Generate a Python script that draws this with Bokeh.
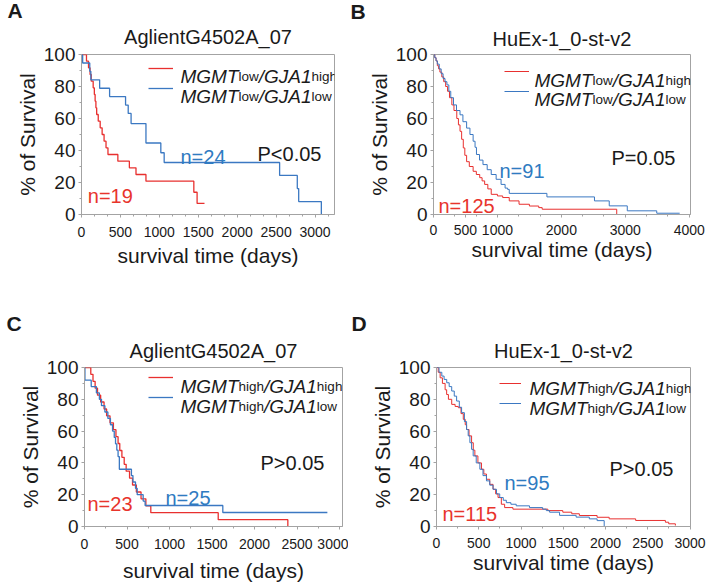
import math
from bokeh.plotting import figure
from bokeh.models import Range1d, Label, Legend, LegendItem, FixedTicker, Title
from bokeh.layouts import column, row
from bokeh.embed import file_html
from bokeh.resources import INLINE

# ---------------- data ----------------
# Panel A  AglientG4502A_07, MGMTlow
a_red_t = [0, 64, 90, 110, 125, 150, 165, 175, 185, 195, 215, 240, 265, 290, 315, 340, 467, 615, 700, 828, 1443, 1485, 1580]
a_red_s = [100, 95.8, 91.7, 87.5, 83.3, 79.2, 75, 70.8, 66.7, 62.5, 58.3, 54.2, 50, 45.8, 41.7, 37.5, 33.3, 29.2, 25, 20.8, 13.9, 6.9, 6.9]
a_blue_t = [0, 15, 106, 120, 233, 361, 566, 600, 637, 828, 1019, 1062, 2545, 2772, 2790, 3081]
a_blue_s = [100, 94.7, 89.5, 84.2, 78.9, 73.7, 68.4, 63.2, 56.8, 44.7, 38.6, 32.5, 24.4, 16.2, 8.1, 0]

# Panel B  HuEx-1_0-st-v2, MGMTlow
b_red_t = [0, 20, 40, 60, 80, 100, 130, 160, 190, 220, 250, 287, 320, 364, 390, 415, 440, 466, 490, 518, 560, 620, 670, 723, 760, 800, 850, 903, 1000, 1082, 1185, 1338, 1500, 1646, 1700, 2866]
b_red_s = [100, 98, 96, 93, 91, 89, 86, 83, 80, 77, 73, 68.5, 65, 60, 56, 52, 47, 41.6, 37, 33, 30, 27, 25, 23, 21, 18.8, 16, 12.6, 11.6, 10.6, 8.5, 6.4, 5.3, 4.3, 3.3, 0]
b_blue_t = [0, 20, 40, 60, 90, 120, 150, 180, 210, 240, 270, 313, 360, 415, 460, 518, 570, 620, 650, 672, 720, 774, 840, 903, 980, 1057, 1120, 1159, 1185, 1774, 2518, 2749, 3031, 3492, 3851]
b_blue_s = [100, 98, 96, 94, 91, 88, 85, 83, 81, 77, 73, 68.5, 65, 62.3, 58, 54, 50, 45.8, 42, 37.5, 34, 31.2, 28, 25, 22, 18.8, 16.5, 15.7, 13.2, 11, 8.5, 5.4, 2.3, 0.8, 0.8]

# Panel C  AglientG4502A_07, MGMThigh
c_red_t = [0, 74, 100, 125, 153, 190, 230, 260, 300, 340, 370, 395, 415, 440, 467, 490, 530, 565, 610, 665, 722, 780, 1573, 2392]
c_red_s = [100, 95.7, 91.3, 87, 82.6, 78.3, 73.9, 69.6, 65.2, 60.9, 56.5, 52.2, 47.8, 43.5, 39.1, 34.8, 30.4, 26.1, 21.7, 17.4, 13, 8.7, 4.3, 0]
c_blue_t = [0, 5, 79, 140, 175, 200, 240, 275, 305, 330, 350, 365, 380, 395, 410, 552, 570, 600, 620, 690, 713, 1627, 2857]
c_blue_s = [100, 92, 88, 84, 80, 76, 72, 68, 64, 60, 56, 52, 48, 44, 36, 32, 28, 24, 20, 16, 13.2, 8.8, 8.8]

# Panel D  HuEx-1_0-st-v2, MGMThigh
d_red_t = [0, 20, 43, 70, 102, 120, 141, 180, 220, 258, 290, 317, 340, 356, 385, 415, 435, 454, 490, 532, 560, 591, 630, 669, 700, 728, 767, 806, 904, 1318, 1494, 1600, 1690, 1900, 2043, 2356, 2708, 2747, 2826]
d_red_s = [100, 97, 93.5, 90, 86, 83, 80, 76.8, 75.5, 74.7, 71, 67.4, 64, 61, 57, 52.7, 48, 44.4, 40, 36, 33, 29.7, 26.5, 23.4, 20.5, 18.2, 14, 11.9, 10.9, 10, 9, 8, 6.9, 5.8, 4.8, 3.8, 2.7, 1.7, 0.6]
d_blue_t = [0, 30, 63, 90, 121, 150, 180, 210, 238, 270, 297, 330, 356, 375, 395, 415, 434, 470, 513, 550, 591, 630, 669, 710, 748, 790, 826, 880, 943, 1100, 1256, 1299, 1338, 1456, 1652, 1808, 1900, 1984]
d_blue_s = [100, 97, 94.6, 92.5, 90.4, 88, 85.2, 82, 78.9, 75, 71.6, 66, 61, 57, 52.7, 48.5, 44.4, 40, 36, 32, 28.7, 26, 23.4, 20.5, 18.2, 16.5, 15, 14, 13, 11.9, 10.9, 10, 9, 7, 5.9, 4.8, 3.7, 0]

y_ticks = [0, 20, 40, 60, 80, 100]
a_xticks = [0, 500, 1000, 1500, 2000, 2500, 3000]
b_xticks = [0, 500, 1000, 2000, 3000, 4000]
c_xticks = [0, 500, 1000, 1500, 2000, 2500, 3000]
d_xticks = [0, 500, 1000, 1500, 2000, 2500, 3000]

# ---------------- styling ----------------
FONT = "Liberation Sans"
RED = "#e8302f"
BLUE = "#3b78c2"
RED_T = "#e8342c"
BLUE_T = "#2f7bc1"
GREY = "#a3a3a3"
INK = "#1a1a1a"

ARIAL = {'M': 833, 'G': 778, 'T': 611, 'l': 222, 'o': 556, 'w': 722, '/': 278,
         'J': 500, 'A': 667, '1': 556, 'h': 556, 'i': 222, 'g': 556}


def tw(s, size):
    return sum(ARIAL.get(c, 556) for c in s) / 1000.0 * size


def make_panel(g, red_t, red_s, blue_t, blue_s, xticks, xminor_step, lw, txt):
    FL, FT, FW, FH, X1, ox, oy, W, H = (g[k] for k in ("FL", "FT", "FW", "FH", "X1", "ox", "oy", "W", "H"))
    p = figure(width=W, height=H, x_range=Range1d(0, X1), y_range=Range1d(0, 100),
               output_backend="svg", toolbar_location=None, title=None,
               min_border_left=FL - ox, min_border_top=FT - oy,
               min_border_right=W - (FL - ox) - FW, min_border_bottom=H - (FT - oy) - FH)
    p.grid.visible = False
    p.outline_line_color = GREY
    p.background_fill_color = "white"
    p.border_fill_color = "white"

    nmin = int(X1 // xminor_step) + 1
    p.xaxis.ticker = FixedTicker(ticks=xticks, minor_ticks=[i * xminor_step for i in range(nmin)])
    p.yaxis.ticker = FixedTicker(ticks=y_ticks, minor_ticks=[10, 30, 50, 70, 90])
    for ax in (p.xaxis, p.yaxis):
        ax.axis_line_color = GREY
        ax.major_tick_line_color = GREY
        ax.minor_tick_line_color = GREY
        ax.major_tick_out = 3
        ax.major_tick_in = 0
        ax.minor_tick_out = 2
        ax.minor_tick_in = 0
        ax.major_label_text_font = FONT
        ax.major_label_text_color = INK
        ax.axis_label_text_font = FONT
        ax.axis_label_text_font_size = "21px"
        ax.axis_label_text_font_style = "normal"
        ax.axis_label_text_color = INK
    p.xaxis.major_label_text_font_size = "14px"
    p.xaxis.major_label_standoff = txt["xtick_so"]
    p.yaxis.major_label_text_font_size = "19px"
    p.yaxis.major_label_standoff = 3
    p.xaxis.axis_label = "survival time (days)"
    p.yaxis.axis_label = "% of Survival"
    p.xaxis.axis_label_standoff = txt["xlab_so"]
    p.yaxis.axis_label_standoff = txt["ylab_so"]

    # titles: dataset name (closest to plot), then panel letter above it
    p.add_layout(Title(text=txt["title"], align="center", text_font=FONT, text_font_size="20px",
                       text_font_style="normal", text_color=INK, standoff=txt["title_so"]), "above")
    p.add_layout(Title(text=txt["letter"], align="left", offset=txt["letter_off"], text_font=FONT,
                       text_font_size="21px", text_font_style="bold", text_color=INK,
                       standoff=txt["letter_so"]), "above")

    r_red = p.step(red_t, red_s, mode="after", line_color=RED, line_width=lw)
    r_blue = p.step(blue_t, blue_s, mode="after", line_color=BLUE, line_width=lw)

    def d(px, py):
        return (px - FL) / FW * X1, (FT + FH - py) / FH * 100.0

    def lab(px, py, text, size, color=INK, style="normal", align="left"):
        x, y = d(px, py)
        p.add_layout(Label(x=x, y=y, text=text, text_font=FONT, text_font_size=f"{size}px",
                           text_color=color, text_font_style=style, text_align=align,
                           text_baseline="alphabetic"))

    # legend sample lines (library legend, labels hidden) + rich text labels
    segL, segR, row1 = txt["seg"]
    leg = Legend(items=[LegendItem(label="a", renderers=[r_red]),
                        LegendItem(label="b", renderers=[r_blue])],
                 location=(segL - FL, (FT + FH) - (row1 - 10 + 40)),
                 glyph_width=segR - segL, glyph_height=20, label_height=20, label_width=1,
                 spacing=0, padding=0, margin=0, label_standoff=0,
                 border_line_alpha=0, background_fill_alpha=0,
                 label_text_alpha=0, label_text_font_size="8px")
    p.add_layout(leg)

    tx0 = txt["legx"]
    for pieces, base in zip(txt["legtext"], txt["legbase"]):
        x = tx0
        for s, style, size in pieces:
            lab(x, base, s, size, style=style)
            x += tw(s, size)

    for (px, py, s, col) in txt["notes"]:
        lab(px, py, s, 20, color=col)
    return p


def leg_pieces(m1, g1):
    return [("MGMT", "italic", 19), (m1, "normal", 13.5), ("/", "italic", 19),
            ("GJA1", "italic", 19), (g1, "normal", 13.5)]


gA = dict(FL=81, FT=54, FW=253, FH=160, X1=3250, ox=0, oy=0, W=340, H=290)
gB = dict(FL=433, FT=54, FW=257, FH=161, X1=4020, ox=340, oy=0, W=372, H=290)
gC = dict(FL=84, FT=367, FW=258, FH=161, X1=3035, ox=0, oy=290, W=348, H=296)
gD = dict(FL=436, FT=367, FW=254, FH=159, X1=3005, ox=348, oy=290, W=364, H=296)

tA = dict(letter="A", letter_off=-74, letter_so=-8, title="AglientG4502A_07", title_so=13,
          xtick_so=9, xlab_so=4, ylab_so=2,
          seg=(148, 173, 68.3), legx=180, legbase=(76, 96),
          legtext=(leg_pieces("low", "high"), leg_pieces("low", "low")),
          notes=[(180, 156.7, "n=24", BLUE_T), (87.3, 195, "n=19", RED_T), (257, 153.3, "P<0.05", INK)])
tB = dict(letter="B", letter_off=-83, letter_so=-5, title="HuEx-1_0-st-v2", title_so=10,
          xtick_so=7, xlab_so=0, ylab_so=2,
          seg=(504, 529, 71.7), legx=534, legbase=(79.7, 99.7),
          legtext=(leg_pieces("low", "high"), leg_pieces("low", "low")),
          notes=[(499, 171.7, "n=91", BLUE_T), (438, 206.7, "n=125", RED_T), (611, 158.3, "P=0.05", INK)])
tC = dict(letter="C", letter_off=-78, letter_so=-5, title="AglientG4502A_07", title_so=11,
          xtick_so=9, xlab_so=7, ylab_so=2,
          seg=(148, 173, 379), legx=180, legbase=(386.7, 406.7),
          legtext=(leg_pieces("high", "high"), leg_pieces("high", "low")),
          notes=[(165, 499.3, "n=25", BLUE_T), (87, 505, "n=23", RED_T), (260, 464, "P>0.05", INK)])
tD = dict(letter="D", letter_off=-85, letter_so=-4, title="HuEx-1_0-st-v2", title_so=11,
          xtick_so=8, xlab_so=0, ylab_so=2,
          seg=(499, 521, 383), legx=529, legbase=(388.3, 408.3),
          legtext=(leg_pieces("high", "high"), leg_pieces("high", "low")),
          notes=[(504, 482.7, "n=95", BLUE_T), (442, 513.3, "n=115", RED_T), (609, 468.3, "P>0.05", INK)])

pA = make_panel(gA, a_red_t, a_red_s, a_blue_t, a_blue_s, a_xticks, 500 / 3, 1.3, tA)
pB = make_panel(gB, b_red_t, b_red_s, b_blue_t, b_blue_s, b_xticks, 1000 / 3, 1.0, tB)
pC = make_panel(gC, c_red_t, c_red_s, c_blue_t, c_blue_s, c_xticks, 250, 1.3, tC)
pD = make_panel(gD, d_red_t, d_red_s, d_blue_t, d_blue_s, d_xticks, 250, 1.0, tD)

layout = column(row(pA, pB), row(pC, pD))
open("out.html", "w").write(file_html(layout, INLINE))
